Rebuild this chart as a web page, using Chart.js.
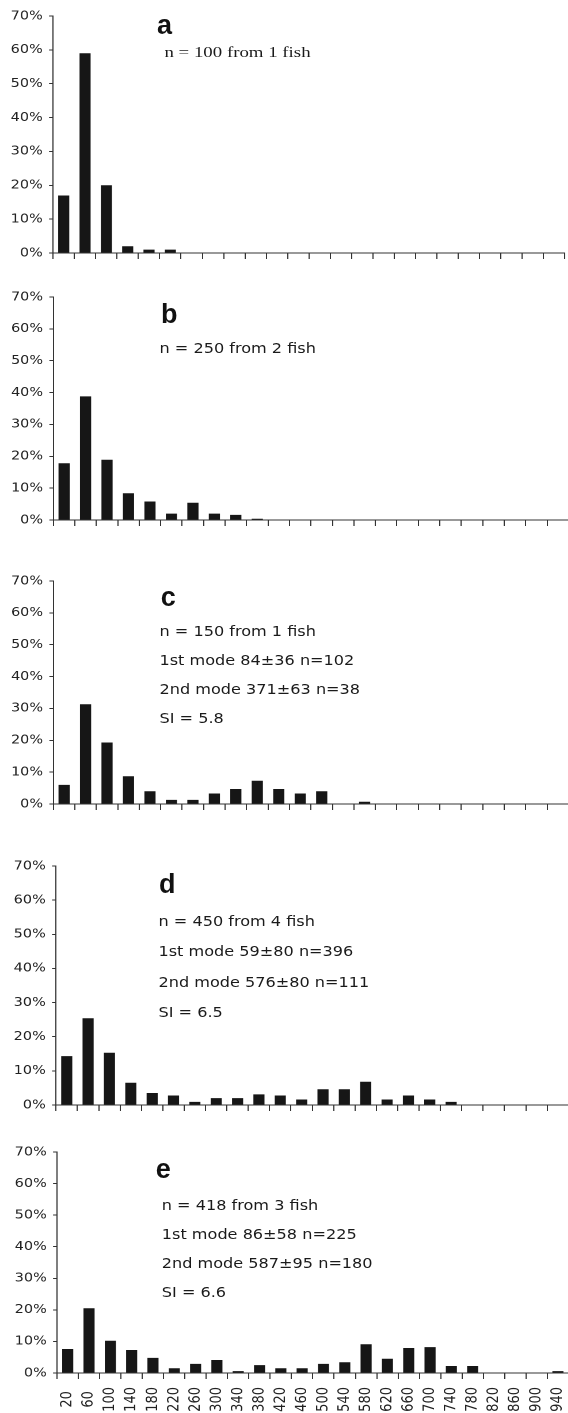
<!DOCTYPE html>
<html><head><meta charset="utf-8">
<script src="https://cdn.jsdelivr.net/npm/chart.js@4"></script>
<style>
html,body{margin:0;padding:0;background:#fff;}
body{width:568px;height:1413px;position:relative;overflow:hidden;}
#wrap{position:absolute;left:0;top:0;width:493.913px;height:1413px;transform:scaleX(1.15);transform-origin:0 0;}
.panel{position:absolute;left:0;width:493.913px;}
.note{position:absolute;font-family:'DejaVu Sans';font-size:14px;line-height:14px;white-space:nowrap;color:#1a1a1a;}
.serif{position:absolute;font-family:'Liberation Serif';font-size:14px;line-height:14px;white-space:nowrap;color:#1a1a1a;transform:scaleX(1.17);transform-origin:0 0;}
.letter{position:absolute;font-family:'Liberation Sans';font-weight:bold;font-size:27px;line-height:27px;color:#111;}
</style></head><body>
<div id="wrap"></div>
<script>
// ---- data ----
const categories = ['20','60','100','140','180','220','260','300','340','380','420','460','500','540','580','620','660','700','740','780','820','860','900','940'];
const yTickLabels = ['0%','10%','20%','30%','40%','50%','60%','70%'];
const pctA = [17, 59, 20, 2, 1, 1, 0, 0, 0, 0, 0, 0, 0, 0, 0, 0, 0, 0, 0, 0, 0, 0, 0, 0];
const pctB = [17.8, 38.8, 18.9, 8.4, 5.8, 2.0, 5.4, 2.0, 1.6, 0.4, 0, 0, 0, 0, 0, 0, 0, 0, 0, 0, 0, 0, 0, 0];
const pctC = [6.0, 31.3, 19.3, 8.7, 4.0, 1.3, 1.3, 3.3, 4.7, 7.3, 4.7, 3.3, 4.0, 0, 0.7, 0, 0, 0, 0, 0, 0, 0, 0, 0];
const pctD = [14.3, 25.4, 15.3, 6.5, 3.5, 2.8, 0.9, 2.0, 2.0, 3.1, 2.8, 1.6, 4.6, 4.6, 6.8, 1.6, 2.8, 1.6, 0.9, 0, 0, 0, 0, 0];
const pctE = [7.6, 20.5, 10.2, 7.3, 4.8, 1.5, 2.9, 4.1, 0.6, 2.5, 1.5, 1.5, 2.9, 3.4, 9.1, 4.5, 7.9, 8.2, 2.2, 2.2, 0, 0, 0, 0.6];
const panelLetters = ['a','b','c','d','e'];
const notesA = ['n = 100 from 1 fish'];
const notesB = ['n = 250 from 2 fish'];
const notesC = ['n = 150 from 1 fish','1st mode 84\u00b136 n=102','2nd mode 371\u00b163 n=38','SI = 5.8'];
const notesD = ['n = 450 from 4 fish','1st mode 59\u00b180 n=396','2nd mode 576\u00b180 n=111','SI = 6.5'];
const notesE = ['n = 418 from 3 fish','1st mode 86\u00b158 n=225','2nd mode 587\u00b195 n=180','SI = 6.6'];

// ---- layout (screen px) ----
const S = 1.15;
const wrap = document.getElementById('wrap');
const panels = [
  {values:pctA, top:0,    height:266, padTop:16, axisX:53,   right:564.3, xH:10, showX:false,
   letter:{x:157, y:12.1}, notes:notesA, serif:true, noteX:165, baselines:[58]},
  {values:pctB, top:275,  height:258, padTop:22, axisX:53.3, right:568, xH:10, showX:false,
   letter:{x:161, y:301.1}, notes:notesB, noteX:161, baselines:[353]},
  {values:pctC, top:560,  height:257, padTop:21, axisX:53.3, right:568, xH:10, showX:false,
   letter:{x:160.7, y:584.1}, notes:notesC, noteX:161, baselines:[636,665,694,723]},
  {values:pctD, top:845,  height:273, padTop:21, axisX:56,   right:568, xH:10, showX:false,
   letter:{x:159, y:871.1}, notes:notesD, noteX:160, baselines:[926,956.3,986.5,1016.7]},
  {values:pctE, top:1130, height:283, padTop:22, axisX:57,   right:568, xH:40, showX:true,
   letter:{x:155.7, y:1156.1}, notes:notesE, noteX:163.3, baselines:[1210,1239,1268,1297]}
];

panels.forEach((p, k) => {
  const div = document.createElement('div');
  div.className = 'panel';
  div.style.top = p.top + 'px';
  div.style.height = p.height + 'px';
  const cv = document.createElement('canvas');
  div.appendChild(cv);
  wrap.appendChild(div);
  new Chart(cv, {
    type: 'bar',
    data: {labels: categories, datasets: [{data: p.values, backgroundColor: '#161616', borderWidth: 0, barPercentage: 0.52, categoryPercentage: 1}]},
    options: {
      responsive: true, maintainAspectRatio: false, animation: false, devicePixelRatio: 2,
      layout: {padding: {top: p.padTop, right: (568 - p.right) / S, bottom: 0, left: 0}},
      plugins: {legend: {display: false}, tooltip: {enabled: false}},
      scales: {
        x: {
          grid: {offset: true, drawOnChartArea: false, drawTicks: true, tickLength: 6, color: '#333', lineWidth: 1},
          border: {display: true, color: '#333', width: 1},
          ticks: {display: p.showX, autoSkip: false, minRotation: 90, maxRotation: 90, padding: 8,
                  font: {family: 'DejaVu Sans', size: 13}, color: '#222',
                  callback: (v, i) => categories[i].length < 3 ? categories[i] + '\u2008' : categories[i]},
          afterFit: (s) => { s.height = p.xH; s.paddingLeft = 0; s.paddingRight = 0; }
        },
        y: {
          min: 0, max: 70,
          ticks: {stepSize: 10, padding: 5.5, font: {family: 'DejaVu Sans', size: 12.5}, color: '#222',
                  callback: (v) => yTickLabels[Math.round(v / 10)]},
          grid: {drawOnChartArea: false, drawTicks: true, tickLength: 3.5, color: '#333', lineWidth: 1},
          border: {display: true, color: '#333', width: 1},
          afterFit: (s) => { s.width = p.axisX / S; }
        }
      }
    }
  });

  // panel letter (unstretched)
  const L = document.createElement('div');
  L.className = 'letter';
  L.textContent = panelLetters[k];
  L.style.left = p.letter.x + 'px';
  L.style.top = p.letter.y + 'px';
  document.body.appendChild(L);

  // annotation lines (stretched with the chart)
  p.notes.forEach((t, j) => {
    const n = document.createElement('div');
    n.className = p.serif ? 'serif' : 'note';
    n.textContent = t;
    if (p.serif) {
      n.style.left = (p.noteX / S) + 'px';
      n.style.top = (p.baselines[j] - 0.8375 * 14) + 'px';
    } else {
      n.style.left = ((p.noteX - 1.5) / S) + 'px';
      n.style.top = (p.baselines[j] - 0.846 * 14) + 'px';
    }
    wrap.appendChild(n);
  });
});
</script>
</body></html>
